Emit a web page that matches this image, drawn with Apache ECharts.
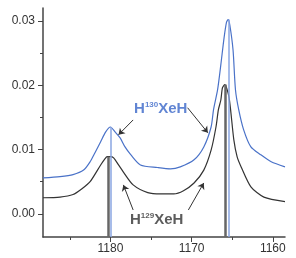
<!DOCTYPE html>
<html lang="en">
<head>
    <meta charset="UTF-8">
    <title>HXeH spectra</title>
    <script src="https://cdn.jsdelivr.net/npm/echarts@6/dist/echarts.min.js"></script>
    <style>
        html, body { margin: 0; padding: 0; background: #fff; }
        #chart1 { width: 296px; height: 258px; }
    </style>
</head>
<body>
<div id="chart1"></div>
<script>
    // H130XeH (blue trace), wavenumber / absorbance
    var blueX = [1188.3, 1186.2, 1184.6, 1183.3, 1182.5, 1181.9, 1181.2, 1180.6, 1180.0, 1179.4, 1178.8, 1178.2, 1177.5,
        1176.3, 1174.2, 1172.6, 1171.4, 1169.7, 1168.5, 1167.6, 1167.3, 1166.8, 1166.4, 1166.0, 1165.7, 1165.5,
        1165.3, 1164.9, 1164.6, 1164.2, 1163.6, 1162.7, 1161.5, 1160.2, 1158.5];
    var blueY = [0.0056, 0.0058, 0.0061, 0.0068, 0.0081, 0.0095, 0.0112, 0.0127, 0.0135, 0.0127, 0.0118, 0.0104, 0.0092,
        0.0076, 0.0072, 0.0070, 0.0073, 0.0084, 0.0104, 0.0135, 0.0162, 0.0193, 0.0232, 0.0274, 0.0298, 0.0302,
        0.0294, 0.0255, 0.0193, 0.0162, 0.0131, 0.0104, 0.0092, 0.0081, 0.0073];
    // H129XeH (black trace)
    var blackX = [1188.3, 1186.2, 1184.6, 1183.5, 1182.5, 1181.2, 1180.7, 1180.4, 1180.0, 1179.6, 1179.0, 1178.4, 1177.2,
        1175.4, 1173.8, 1172.2, 1171.0, 1169.7, 1168.5, 1167.6, 1167.0, 1166.7, 1166.4, 1166.2, 1165.9, 1165.7, 1165.4,
        1165.2, 1164.8, 1164.4, 1163.9, 1162.7, 1161.1, 1158.5];
    var blackY = [0.0025, 0.0026, 0.0030, 0.0039, 0.0050, 0.0076, 0.0085, 0.0089, 0.0089, 0.0087, 0.0076, 0.0065, 0.0045,
        0.0033, 0.0031, 0.0031, 0.0036, 0.0048, 0.0068, 0.0099, 0.0135, 0.0162, 0.0177, 0.0196, 0.0201, 0.0196, 0.0182,
        0.0162, 0.0115, 0.0089, 0.0073, 0.0042, 0.0026, 0.0019];
    // calculated band positions (sticks) and heights
    var blueStickX = [1180.0, 1165.4];
    var blueStickY = [0.0135, 0.0302];
    var blackStickX = [1180.3, 1165.9];
    var blackStickY = [0.0089, 0.0201];

    var xMajor = [1160, 1170, 1180];
    var xMinor = [1165, 1175, 1185];
    var yMajor = [0, 0.01, 0.02, 0.03];
    var yMinor = [0.005, 0.015, 0.025];

    var xMin = 1158.5, xMax = 1188.3, yMin = -0.0036, yMax = 0.032;

    function pairs(xs, ys) {
        return xs.map(function (x, i) { return [x, ys[i]]; });
    }
    function sticks(xs, ys) {
        return xs.map(function (x, i) { return [{coord: [x, yMin]}, {coord: [x, ys[i]]}]; });
    }

    var axisCol = '#444';
    var myChart = echarts.init(document.getElementById('chart1'), null, {renderer: 'canvas'});
    var option = {
        animation: false,
        grid: {left: 43, right: 11, top: 8, bottom: 21},
        xAxis: [
            {
                type: 'value', inverse: true, min: xMin, max: xMax,
                splitLine: {show: false},
                axisLine: {onZero: false, lineStyle: {color: axisCol, width: 1.5}},
                axisTick: {customValues: xMajor, length: 5, lineStyle: {color: axisCol}},
                axisLabel: {customValues: xMajor, color: '#333', fontSize: 12, fontFamily: 'Liberation Sans', margin: 6,
                    formatter: function (v) { return String(v); }}
            },
            {
                type: 'value', inverse: true, min: xMin, max: xMax, position: 'bottom',
                splitLine: {show: false},
                axisLine: {show: false, onZero: false},
                axisTick: {customValues: xMinor, length: 3, lineStyle: {color: axisCol}},
                axisLabel: {show: false}
            }
        ],
        yAxis: [
            {
                type: 'value', min: yMin, max: yMax,
                splitLine: {show: false},
                axisLine: {show: true, onZero: false, lineStyle: {color: axisCol, width: 1.5}},
                axisTick: {show: true, customValues: yMajor, length: 5, lineStyle: {color: axisCol}},
                axisLabel: {customValues: yMajor, color: '#333', fontSize: 12, fontFamily: 'Liberation Sans', margin: 8,
                    formatter: function (v) { return v.toFixed(2); }}
            },
            {
                type: 'value', min: yMin, max: yMax, position: 'left',
                splitLine: {show: false},
                axisLine: {show: false, onZero: false},
                axisTick: {show: true, customValues: yMinor, length: 3, lineStyle: {color: axisCol}},
                axisLabel: {show: false}
            }
        ],
        series: [
            {
                name: 'sticks', type: 'line', data: [], silent: true,
                markLine: {
                    silent: true, symbol: 'none', animation: false, label: {show: false},
                    lineStyle: {color: '#666', width: 2.5, type: 'solid'},
                    data: sticks(blackStickX, blackStickY)
                }
            },
            {
                name: 'sticks2', type: 'line', data: [], silent: true,
                markLine: {
                    silent: true, symbol: 'none', animation: false, label: {show: false},
                    lineStyle: {color: '#8aa6e2', width: 1.5, type: 'solid'},
                    data: sticks(blueStickX, blueStickY)
                }
            },
            {
                name: 'H130XeH', type: 'line', data: pairs(blueX, blueY), smooth: 0.25,
                showSymbol: false, lineStyle: {color: '#4a72c8', width: 1.2}
            },
            {
                name: 'H129XeH', type: 'line', data: pairs(blackX, blackY), smooth: 0.25,
                showSymbol: false, lineStyle: {color: '#333', width: 1.2}
            },
            {
                // labels and arrows
                name: 'labels', type: 'scatter', symbolSize: 0, silent: true,
                data: [
                    {value: [1173.8, 0.0163], label: {show: true, formatter: '{m|H}{s|130}{m|XeH}', color: '#3a66c8'}},
                    {value: [1174.3, -0.0010], label: {show: true, formatter: '{m|H}{s|129}{m|XeH}', color: '#333'}}
                ],
                label: {
                    position: 'inside', fontSize: 15, fontWeight: 'bold', fontFamily: 'Liberation Sans',
                    rich: {
                        m: {fontSize: 15, fontWeight: 'bold', lineHeight: 16},
                        s: {fontSize: 8, fontWeight: 'bold', lineHeight: 8, verticalAlign: 'top', padding: [0, 0, 10, 0]}
                    }
                },
                markLine: {
                    silent: true, animation: false, symbol: ['none', 'arrow'], symbolSize: 6,
                    label: {show: false},
                    lineStyle: {color: '#333', width: 1, type: 'solid'},
                    data: [
                        [{coord: [1177.2, 0.0146]}, {coord: [1179.0, 0.0123]}],
                        [{coord: [1170.5, 0.0165]}, {coord: [1168.0, 0.0126]}],
                        [{coord: [1177.2, 0.0006]}, {coord: [1178.4, 0.0045]}],
                        [{coord: [1170.4, 0.0006]}, {coord: [1168.5, 0.0048]}]
                    ]
                }
            }
        ]
    };
    myChart.setOption(option);
</script>
</body>
</html>
